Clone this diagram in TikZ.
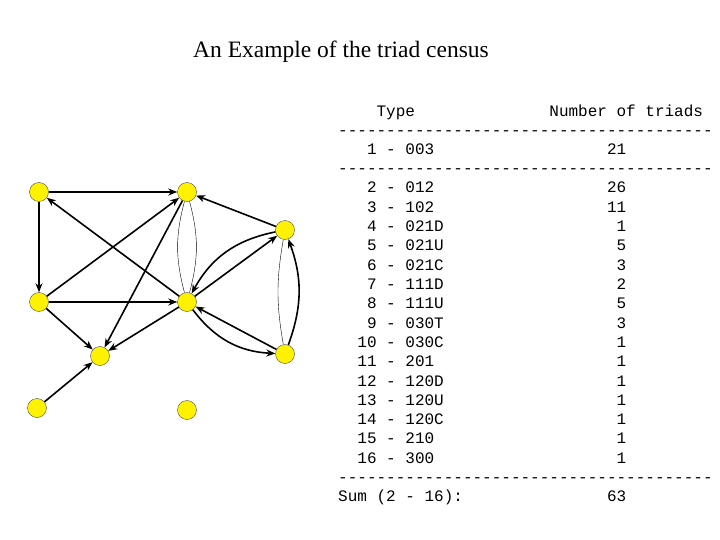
\documentclass[tikz,border=0pt]{standalone}
\usepackage{fontspec}
\setmainfont{Liberation Serif}
\newfontfamily\mono{Liberation Mono}
\usetikzlibrary{arrows.meta}
\begin{document}
\begin{tikzpicture}[x=1pt,y=-1pt,
  v/.style={circle,draw=black!70,fill=yellow,minimum size=19pt,inner sep=0pt},
  e/.style={draw,line width=1.6pt,-{Stealth[length=9pt,width=7pt]}},
  t/.style={draw,line width=0.4pt},
  row/.style={anchor=base west,inner sep=0pt,font=\mono\fontsize{16}{16}\selectfont}]
\useasboundingbox (0,0) rectangle (720,540);
\node[font=\fontsize{23.5}{26}\selectfont] (title) at (341,52) {An Example of the triad census};
\node[v] (A) at (39,192) {};
\node[v] (B) at (187,192) {};
\node[v] (C) at (285,230) {};
\node[v] (D) at (39,302) {};
\node[v] (E) at (187,302) {};
\node[v] (F) at (285,354) {};
\node[v] (G) at (100,356) {};
\node[v] (H) at (37,408) {};
\node[v] (I) at (187,410) {};
\draw[e] (A) -- (B);
\draw[e] (A) -- (D);
\draw[e] (E) -- (A);
\draw[e] (D) -- (B);
\draw[e] (D) -- (E);
\draw[e] (D) -- (G);
\draw[e] (B) -- (G);
\draw[e] (E) -- (G);
\draw[e] (H) -- (G);
\draw[e] (C) -- (B);
\draw[e] (E) -- (C);
\draw[e] (C) to[bend right=25] (E);
\draw[e] (E) to[bend right=25] (F);
\draw[e] (F) -- (E);
\draw[e] (F) to[bend right=20] (C);
\draw[t] (C) to[bend right=10] (F);
\draw[t] (B) to[bend right=15] (E);
\draw[t] (B) to[bend left=15] (E);
\def\dash{---------------------------------------}
\node[row] (h) at (338+9.6*4,117) {Type};
\node[row] (h2) at (338+9.6*22,117) {Number of triads};
\node[row] (d1) at (338,136) {\dash};
\node[row] (r1) at (338+9.6*3,155) {1 - 003};
\node[row] (c1) at (338+9.6*28,155) {21};
\node[row] (d2) at (338,174) {\dash};
\foreach \i/\ix/\ty/\c/\cx [count=\k from 0] in {2/3/012/26/28,3/3/102/11/28,4/3/021D/1/29,5/3/021U/5/29,6/3/021C/3/29,7/3/111D/2/29,8/3/111U/5/29,9/3/030T/3/29,10/2/030C/1/29,11/2/201/1/29,12/2/120D/1/29,13/2/120U/1/29,14/2/120C/1/29,15/2/210/1/29,16/2/300/1/29}{
  \node[row] (r\i) at (338+9.6*\ix,193+19.3*\k) {\i\ -\ \ty};
  \node[row] (n\i) at (338+9.6*\cx,193+19.3*\k) {\c};
}
\node[row] (d3) at (338,482) {\dash};
\node[row] (s) at (338,501) {Sum (2 - 16):};
\node[row] (s2) at (338+9.6*28,501) {63};
\end{tikzpicture}
\end{document}
